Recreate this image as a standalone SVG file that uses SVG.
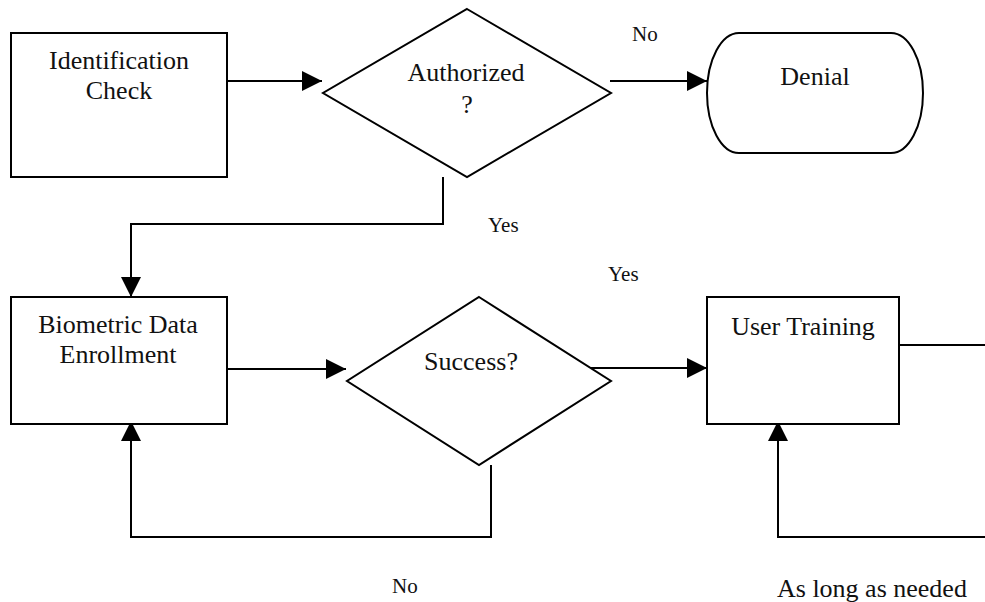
<svg xmlns="http://www.w3.org/2000/svg" width="985" height="602" viewBox="0 0 985 602">
<style>
.shape{fill:#fff;stroke:#000;stroke-width:2}
.conn{fill:none;stroke:#000;stroke-width:2}
.t{font-family:"Liberation Serif","Times New Roman",serif;font-size:26px;fill:#111;text-anchor:middle}
.lbl{font-family:"Liberation Serif","Times New Roman",serif;font-size:21px;fill:#111}
</style>
<defs>
<marker id="arr" markerUnits="userSpaceOnUse" markerWidth="20" markerHeight="20" refX="20" refY="10" orient="auto">
<path d="M0,0 L20,10 L0,20 Z" fill="#000"/>
</marker>
</defs>
<rect width="985" height="602" fill="#fff"/>
<g id="connectors">
<path class="conn" d="M227,81 L322,81" marker-end="url(#arr)"/>
<path class="conn" d="M610,81 L707,81" marker-end="url(#arr)"/>
<path class="conn" d="M443,177 L443,224 L131,224 L131,297" marker-end="url(#arr)"/>
<path class="conn" d="M227,369 L346,369" marker-end="url(#arr)"/>
<path class="conn" d="M586,368 L707,368" marker-end="url(#arr)"/>
<path class="conn" d="M491,465 L491,537 L131,537 L131,421" marker-end="url(#arr)"/>
<path class="conn" d="M899,345 L992,345 L992,537 L778,537 L778,421" marker-end="url(#arr)"/>
</g>
<g id="identification">
<rect class="shape" x="11" y="33" width="216" height="144"/>
<text class="t" x="119" y="69">Identification</text>
<text class="t" x="119" y="99">Check</text>
</g>
<g id="authorized">
<polygon class="shape" points="467,9 611,93 467,177 323,93"/>
<text class="t" x="466" y="81">Authorized</text>
<text class="t" x="467" y="113">?</text>
</g>
<g id="denial">
<rect class="shape" x="707" y="33" width="216" height="120" rx="32" ry="60"/>
<text class="t" x="815" y="85">Denial</text>
</g>
<g id="biometric">
<rect class="shape" x="11" y="297" width="216" height="127"/>
<text class="t" x="118" y="333">Biometric Data</text>
<text class="t" x="118" y="363">Enrollment</text>
</g>
<g id="success">
<polygon class="shape" points="479,297 611,381 479,465 347,381"/>
<text class="t" x="471" y="370">Success?</text>
</g>
<g id="training">
<rect class="shape" x="707" y="297" width="192" height="127"/>
<text class="t" x="803" y="335">User Training</text>
</g>
<g id="labels">
<text class="lbl" x="632" y="41">No</text>
<text class="lbl" x="488" y="232">Yes</text>
<text class="lbl" x="608" y="281">Yes</text>
<text class="lbl" x="392" y="593">No</text>
<text class="t" x="777" y="597" style="text-anchor:start">As long as needed</text>
</g>
</svg>
